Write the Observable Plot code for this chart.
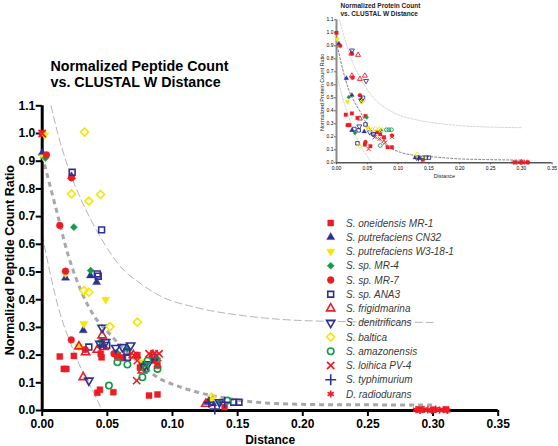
<!DOCTYPE html>
<html><head><meta charset="utf-8">
<script src="https://cdn.jsdelivr.net/npm/d3@7"></script>
<script src="https://cdn.jsdelivr.net/npm/@observablehq/plot@0.6"></script>
<style>
html,body{margin:0;padding:0;background:#fff;}
#wrap{position:relative;width:558px;height:446px;overflow:hidden;background:#fff;}
#wrap > svg{position:absolute;}
</style></head><body><div id="wrap"></div>
<script>
// ---------- categories ----------
const seriesNames = ["S. oneidensis MR-1","S. putrefaciens CN32","S. putrefaciens W3-18-1","S. sp. MR-4","S. sp. MR-7","S. sp. ANA3","S. frigidmarina","S. denitrificans","S. baltica","S. amazonensis","S. loihica PV-4","S. typhimurium","D. radiodurans"];
const xTicks = [0,0.05,0.10,0.15,0.20,0.25,0.30,0.35];
const yTicks = [0,0.1,0.2,0.3,0.4,0.5,0.6,0.7,0.8,0.9,1.0,1.1];

// ---------- main chart values [distance, ratio] ----------
const mr1 = [[0,1.0],[0.0135,0.195],[0.0166,0.15],[0.0185,0.15],[0.0243,0.197],[0.0423,0.064],[0.0443,0.075],[0.0546,0.066],[0.082,0.054],[0.0885,0.058],[0.0456,0.192],[0.0449,0.205],[0.058,0.2],[0.062,0.19],[0.073,0.2],[0.075,0.155],[0.0859,0.18],[0.0885,0.162],[0.14,0.012],[0.29,0.004],[0.30,0.003],[0.31,0.004]];
const cn32 = [[0,0.93],[0.0225,0.845],[0.0179,0.479],[0.037,0.487],[0.0418,0.463],[0.0315,0.289],[0.0449,0.235],[0.087,0.19],[0.127,0.03],[0.131,0.025]];
const w3181 = [[0.002,0.995],[0.001,0.915],[0.0179,0.495],[0.0487,0.4],[0.032,0.313],[0.0282,0.231],[0.0769,0.174],[0.13,0.04]];
const mr4 = [[0.0025,0.912],[0.0243,0.662],[0.0372,0.505],[0.0449,0.25],[0.057,0.21],[0.0654,0.223],[0.0885,0.187],[0.0769,0.162],[0.136,0.03]];
const mr7 = [[0.0033,0.923],[0.0225,0.84],[0.0135,0.668],[0.0179,0.503],[0.0223,0.255],[0.033,0.22],[0.0551,0.205],[0.0577,0.192],[0.0615,0.19]];
const ana3 = [[0.023,0.86],[0.0456,0.652],[0.0423,0.493],[0.043,0.485],[0.0358,0.229],[0.0495,0.235],[0.065,0.21],[0.0654,0.192],[0.0859,0.192],[0.147,0.03],[0.151,0.03]];
const frigid = [[0.046,0.271],[0.0315,0.12],[0.0282,0.231],[0.0333,0.21],[0.0423,0.219],[0.0474,0.229],[0.07,0.2],[0.085,0.2],[0.0769,0.144],[0.1256,0.024]];
const denitr = [[0.046,0.299],[0.0358,0.108],[0.0443,0.241],[0.0487,0.247],[0.0564,0.226],[0.0615,0.229],[0.0679,0.235],[0.0782,0.159],[0.081,0.167],[0.136,0.03]];
const baltica = [[0.0325,1.005],[0.0225,0.782],[0.0358,0.756],[0.0448,0.78],[0.032,0.433],[0.0358,0.427],[0.052,0.303],[0.073,0.319],[0.13,0.048]];
const amazon = [[0.0512,0.09],[0.0577,0.174],[0.0654,0.166],[0.0769,0.12],[0.0795,0.15],[0.0808,0.18],[0.0885,0.15],[0.142,0.036]];
const loihica = [[0,1.0],[0.0725,0.108],[0.0705,0.199],[0.082,0.205],[0.0859,0.205],[0.0897,0.205],[0.073,0.18],[0.0885,0.169]];
const typhi = [[0.1325,0.005],[0.128,0.03],[0.14,0.03]];
const radio = [[0.287,0.003],[0.29,0.0],[0.293,0.004],[0.296,0.002],[0.299,0.0],[0.302,0.005],[0.305,0.001],[0.308,0.003],[0.311,0.0]];

// fitted curve and band
const fitCurve = [[0,0.92],[0.01,0.74],[0.02,0.56],[0.03,0.43],[0.04,0.34],[0.05,0.285],[0.06,0.235],[0.07,0.19],[0.08,0.15],[0.09,0.115],[0.10,0.095],[0.12,0.065],[0.14,0.045],[0.16,0.032],[0.18,0.025],[0.22,0.021],[0.30,0.02]];
const upperBand = [[0.0068,1.1],[0.012,1.0],[0.019,0.89],[0.03,0.76],[0.04,0.665],[0.05,0.585],[0.06,0.52],[0.075,0.46],[0.09,0.415],[0.12,0.37],[0.15,0.345],[0.18,0.33],[0.22,0.322],[0.30,0.318]];
const lowerBand = [[0,0.635],[0.005,0.52],[0.01,0.415],[0.015,0.33],[0.02,0.265],[0.025,0.205],[0.03,0.15],[0.035,0.105],[0.04,0.06],[0.0445,0.015],[0.046,0]];

// ---------- inset chart values ----------
const iMr1 = [[0,1.0],[0.015,0.37],[0.025,0.38],[0.018,0.29],[0.021,0.29],[0.034,0.345],[0.047,0.36],[0.046,0.14],[0.055,0.128],[0.066,0.235],[0.071,0.22],[0.077,0.197],[0.083,0.12],[0.09,0.12],[0.14,0.023],[0.29,0.003],[0.30,0.003],[0.31,0.003]];
const iCn32 = [[0.004,0.915],[0.016,0.65],[0.025,0.52],[0.041,0.49],[0.025,0.25],[0.045,0.24],[0.128,0.04],[0.135,0.035]];
const iW3181 = [[0.001,0.95],[0.018,0.47],[0.05,0.27],[0.13,0.05]];
const iMr4 = [[0.02,0.505],[0.03,0.23],[0.049,0.35],[0.072,0.25]];
const iMr7 = [[0.006,0.9],[0.025,0.84],[0.026,0.655],[0.038,0.52],[0.047,0.16],[0.09,0.21]];
const iAna3 = [[0.043,0.5],[0.047,0.295],[0.029,0.26],[0.036,0.25],[0.034,0.15],[0.06,0.22],[0.145,0.04],[0.15,0.04]];
const iFrigid = [[0.024,0.84],[0.035,0.83],[0.025,0.67],[0.038,0.645],[0.046,0.67],[0.038,0.34],[0.30,0.005]];
const iDenitr = [[0.025,0.864],[0.048,0.63],[0.04,0.48],[0.037,0.28],[0.06,0.22],[0.054,0.235],[0.13,0.04]];
const iBaltica = [[0.041,0.47],[0.043,0.48],[0.038,0.13],[0.052,0.26],[0.058,0.254],[0.063,0.26],[0.069,0.26],[0.074,0.254],[0.131,0.064]];
const iAmazon = [[0.081,0.254],[0.085,0.254],[0.089,0.254],[0.071,0.133],[0.14,0.04]];
const iLoihica = [[0.052,0.107],[0.062,0.197],[0.07,0.185],[0.077,0.173],[0.079,0.155],[0.09,0.2]];
const iTyphi = [[0.133,0.035]];
const iRadio = [[0.287,0.003],[0.293,0.003],[0.299,0.003],[0.305,0.003],[0.311,0.003]];
const iFit = [[0,0.93],[0.01,0.72],[0.02,0.56],[0.03,0.46],[0.04,0.38],[0.05,0.29],[0.06,0.22],[0.071,0.17],[0.085,0.12],[0.104,0.08],[0.13,0.055],[0.158,0.045],[0.2,0.03],[0.24,0.025],[0.31,0.02]];
const iUpper = [[0.005,1.1],[0.02,0.85],[0.04,0.64],[0.06,0.5],[0.08,0.42],[0.1,0.37],[0.13,0.33],[0.17,0.3],[0.22,0.28],[0.30,0.27]];
const iLower = [[0,0.68],[0.01,0.5],[0.02,0.35],[0.03,0.22],[0.04,0.12],[0.05,0.05],[0.057,0]];

// ---------- styles ----------
const RED = "#ec1c24", NAVY = "#2e3192", YEL = "#f7e600", GRN = "#139a4e";
const triangleDown = {
  draw(context, size) {
    const y = -Math.sqrt(size / (Math.sqrt(3) * 3));
    context.moveTo(0, -y * 2);
    context.lineTo(-Math.sqrt(3) * y, y);
    context.lineTo(Math.sqrt(3) * y, y);
    context.closePath();
  }
};
const seriesColors = [RED, NAVY, YEL, GRN, RED, NAVY, RED, NAVY, YEL, GRN, RED, NAVY, RED];
const seriesSymbols = ["square","triangle",triangleDown,"diamond2","circle","square","triangle",triangleDown,"diamond2","circle","times","plus","asterisk"];
const seriesFilled = [true,true,true,true,true,false,false,false,false,false,false,false,false];
const seriesR = [3.4,3.0,3.0,3.2,3.4,3.3,3.1,3.1,3.6,3.2,3.4,3.6,3.4];

const mainData = [mr1,cn32,w3181,mr4,mr7,ana3,frigid,denitr,baltica,amazon,loihica,typhi,radio];
const insetData = [iMr1,iCn32,iW3181,iMr4,iMr7,iAna3,iFrigid,iDenitr,iBaltica,iAmazon,iLoihica,iTyphi,iRadio];

const FONT = '"Liberation Sans", Arial, Helvetica, sans-serif';

function seriesDots(list, scale, sw) {
  return list.map((data, i) => Plot.dot(data, {
    x: d => d[0], y: d => d[1],
    r: seriesR[i] * scale,
    symbol: seriesSymbols[i],
    fill: seriesFilled[i] ? seriesColors[i] : "none",
    stroke: seriesColors[i],
    strokeWidth: seriesFilled[i] ? 0.4 * scale : sw
  }));
}

const wrap = document.getElementById("wrap");

// ---------- main chart ----------
const main = Plot.plot({
  width: 558, height: 446,
  marginLeft: 41.7, marginRight: 60.3, marginTop: 105.3, marginBottom: 36,
  x: {domain: [0, 0.35]},
  y: {domain: [0, 1.1]},
  style: {fontFamily: FONT, background: "transparent", color: "black", overflow: "visible"},
  marks: [
    Plot.line(upperBand, {x: d => d[0], y: d => d[1], stroke: "#b4b4b4", strokeWidth: 1, strokeDasharray: "7,4", curve: "monotone-x"}),
    Plot.line(lowerBand, {x: d => d[0], y: d => d[1], stroke: "#b4b4b4", strokeWidth: 1, strokeDasharray: "7,4", curve: "monotone-x"}),
    Plot.line(fitCurve, {x: d => d[0], y: d => d[1], stroke: "#a8a8a8", strokeWidth: 3, strokeDasharray: "5,4", strokeLinecap: "butt", curve: "monotone-x"}),
    Plot.axisX(xTicks, {tickFormat: d => d.toFixed(2), tickSize: 6, tickPadding: 2.5, fontSize: 12, fontWeight: "bold", strokeWidth: 2, label: null}),
    Plot.axisY(yTicks, {tickFormat: d => d.toFixed(1), tickSize: 6, tickPadding: 1, fontSize: 12, fontWeight: "bold", strokeWidth: 2, label: null}),
    Plot.ruleX([0], {strokeWidth: 3}),
    Plot.ruleY([0], {strokeWidth: 3}),
    ...seriesDots(mainData, 1, 1.6),
    Plot.text(["Normalized Peptide Count"], {frameAnchor: "top-left", dx: 8.3, dy: -39.2, lineAnchor: "middle", textAnchor: "start", fontSize: 14.3, fontWeight: "bold"}),
    Plot.text(["vs. CLUSTAL W Distance"], {frameAnchor: "top-left", dx: 8.3, dy: -22.9, lineAnchor: "middle", textAnchor: "start", fontSize: 14.3, fontWeight: "bold"}),
    Plot.text(["Normalized Peptide Count Ratio"], {frameAnchor: "left", rotate: -90, dx: -32.4, dy: 2, lineAnchor: "middle", textAnchor: "middle", fontSize: 12.5, fontWeight: "bold"}),
    Plot.text(["Distance"], {frameAnchor: "bottom", dy: 29.8, lineAnchor: "middle", textAnchor: "middle", fontSize: 12, fontWeight: "bold"})
  ]
});
main.style.left = "0px"; main.style.top = "0px";
wrap.appendChild(main);

// ---------- legend ----------
const legend = d3.create("svg").attr("width", 558).attr("height", 446)
  .style("left", "0px").style("top", "0px").style("font-family", FONT);
const symbolTypes = {square: d3.symbolSquare, triangle: d3.symbolTriangle, diamond2: d3.symbolDiamond2, circle: d3.symbolCircle, times: d3.symbolTimes, plus: d3.symbolPlus, asterisk: d3.symbolAsterisk};
seriesNames.forEach((name, i) => {
  const cy = 223 + i * 14.25;
  const sym = typeof seriesSymbols[i] === "string" ? symbolTypes[seriesSymbols[i]] : seriesSymbols[i];
  const r = seriesR[i];
  legend.append("path")
    .attr("d", d3.symbol(sym, Math.PI * r * r)())
    .attr("transform", `translate(330.7,${cy})`)
    .attr("fill", seriesFilled[i] ? seriesColors[i] : "none")
    .attr("stroke", seriesColors[i])
    .attr("stroke-width", seriesFilled[i] ? 0.4 : 1.6);
  legend.append("text")
    .attr("x", 346).attr("y", cy + 3.6)
    .attr("font-size", 10).attr("font-style", "italic").attr("fill", "#3a3a3a")
    .text(name);
});
wrap.appendChild(legend.node());

// ---------- inset chart ----------
const inset = Plot.plot({
  width: 258, height: 190,
  marginLeft: 36, marginRight: 6.3, marginTop: 19.3, marginBottom: 27.7,
  x: {domain: [0, 0.35]},
  y: {domain: [0, 1.1]},
  style: {fontFamily: FONT, background: "transparent", color: "black", overflow: "visible"},
  marks: [
    Plot.line(iUpper, {x: d => d[0], y: d => d[1], stroke: "#cfcfcf", strokeWidth: 0.9, strokeDasharray: "2,1.5", curve: "monotone-x"}),
    Plot.line(iLower, {x: d => d[0], y: d => d[1], stroke: "#cfcfcf", strokeWidth: 0.9, strokeDasharray: "2,1.5", curve: "monotone-x"}),
    Plot.line(iFit, {x: d => d[0], y: d => d[1], stroke: "#6e6e6e", strokeWidth: 0.9, strokeDasharray: "2,2", curve: "monotone-x"}),
    Plot.axisX(xTicks, {tickFormat: d => d.toFixed(2), tickSize: 2, tickPadding: 1.5, fontSize: 5, stroke: "#666", label: null}),
    Plot.axisY(yTicks, {tickFormat: d => d.toFixed(1), tickSize: 2, tickPadding: 1, fontSize: 5, stroke: "#666", label: null}),
    Plot.ruleX([0], {stroke: "#8a8a8a", strokeWidth: 2}),
    Plot.ruleY([0], {stroke: "#555", strokeWidth: 1.5}),
    ...seriesDots(insetData, 0.6, 0.9),
    Plot.text(["Normalized Protein Count"], {frameAnchor: "top-left", dx: 4, dy: -14.1, lineAnchor: "middle", textAnchor: "start", fontSize: 6.5, fontWeight: "bold", fill: "#222"}),
    Plot.text(["vs. CLUSTAL W Distance"], {frameAnchor: "top-left", dx: 4, dy: -5.9, lineAnchor: "middle", textAnchor: "start", fontSize: 6.5, fontWeight: "bold", fill: "#222"}),
    Plot.text(["Normalized Protein Count Ratio"], {frameAnchor: "left", rotate: -90, dx: -14, dy: 1, lineAnchor: "middle", textAnchor: "middle", fontSize: 5.5, fill: "#222"}),
    Plot.text(["Distance"], {frameAnchor: "bottom", dy: 13.4, lineAnchor: "middle", textAnchor: "middle", fontSize: 5.5, fill: "#222"})
  ]
});
inset.style.left = "300px"; inset.style.top = "0px";
wrap.appendChild(inset);
</script>
</body></html>
